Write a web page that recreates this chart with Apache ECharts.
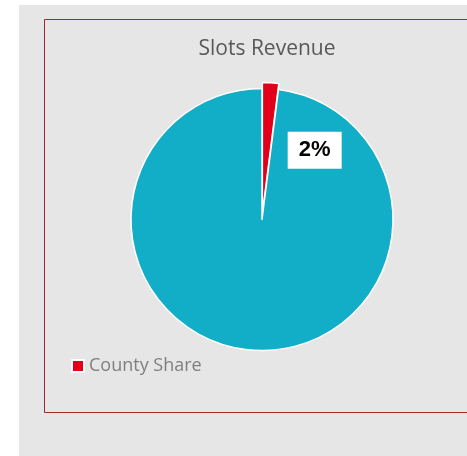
<!DOCTYPE html>
<html>
<head>
<meta charset="utf-8">
<script src="https://cdn.jsdelivr.net/npm/echarts@6/dist/echarts.min.js"></script>
<style>
  html, body { margin: 0; padding: 0; background: #fff; }
  #chart { width: 467px; height: 456px; }
</style>
</head>
<body>
<div id="chart"></div>
<script>
// slice data
const sliceNames = ['County Share', 'Other Share']
const sliceValues = [2, 98]
const sliceColors = ['#e2001a', '#12aec8']
const legendNames = ['County Share']

const chart = echarts.init(document.getElementById('chart'))

const option = {
  backgroundColor: '#fff',
  graphic: [
    { type: 'rect', shape: { x: 19, y: 5, width: 460, height: 460 }, style: { fill: '#e6e6e6' }, z: -10 },
    { type: 'rect', shape: { x: 44.5, y: 19.5, width: 440, height: 393 }, style: { fill: 'none', stroke: '#9e2a2b', lineWidth: 1 }, z: -9 }
  ],
  title: {
    text: 'Slots Revenue',
    left: 262,
    textAlign: 'center',
    top: 34,
    textStyle: {
      fontFamily: 'Open Sans',
      fontSize: 21,
      fontWeight: 'normal',
      color: '#595959'
    }
  },
  legend: {
    data: legendNames,
    left: 66,
    top: 352,
    icon: 'rect',
    itemWidth: 12,
    itemHeight: 12,
    itemGap: 6,
    textStyle: {
      fontFamily: 'Open Sans',
      fontSize: 18,
      color: '#7f7f7f'
    }
  },
  series: [{
    type: 'pie',
    center: [262, 219.5],
    radius: 131,
    startAngle: 90,
    clockwise: true,
    selectedMode: 'single',
    selectedOffset: 6,
    animation: false,
    itemStyle: { borderColor: '#fff', borderWidth: 1.5 },
    labelLine: { show: false },
    emphasis: { disabled: true },
    labelLayout: function (params) {
      if (params.dataIndex === 0) return { dx: 48, dy: 5 }
      return {}
    },
    data: sliceNames.map((name, i) => ({
      name: name,
      value: sliceValues[i],
      selected: i === 0,
      itemStyle: { color: sliceColors[i] },
      label: i === 0 ? {
        show: true,
        position: 'inside',
        formatter: '{d}%',
        backgroundColor: '#fff',
        width: 38,
        align: 'center',
        padding: [8, 8, 7, 8],
        fontFamily: 'Liberation Sans',
        fontWeight: 'bold',
        fontSize: 22,
        color: '#000'
      } : { show: false }
    }))
  }]
}
chart.setOption(option)
</script>
</body>
</html>
